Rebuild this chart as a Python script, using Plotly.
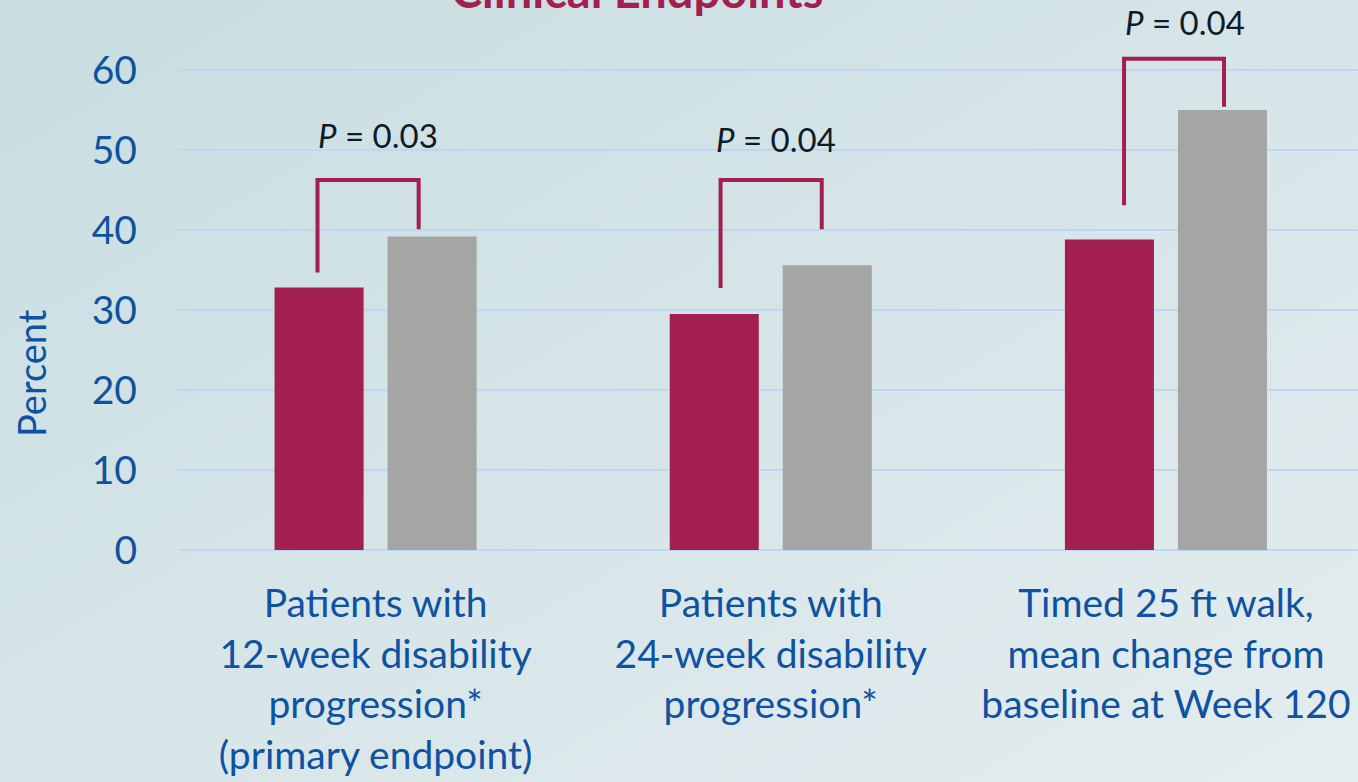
import base64
import plotly.graph_objects as go

# ---- data ----
categories = [
    "Patients with<br>12-week disability<br>progression*<br>(primary endpoint)",
    "Patients with<br>24-week disability<br>progression*",
    "Timed 25 ft walk,<br>mean change from<br>baseline at Week 120",
]
treatment = [32.8, 29.5, 38.8]
placebo = [39.2, 35.6, 55.0]
y_ticks = [0, 10, 20, 30, 40, 50, 60]

# significance brackets: horizontal offsets from the category centre,
# bottom ends of left/right legs and the bracket top
bracket_left_dx = [-0.147, -0.127, -0.106]
bracket_right_dx = [0.109, 0.129, 0.147]
bracket_left_low = [34.7, 32.75, 43.1]
bracket_right_low = [40.1, 40.1, 55.4]
bracket_top = [46.25, 46.25, 61.4]
p_values = ["0.03", "0.04", "0.04"]
p_label_x = [0.005, 1.014, 2.049]
p_label_y = [51.9, 51.4, 66.0]

CRIMSON = "#A31F4F"
GREY = "#A5A5A5"
BLUE = "#0F52A1"
FONT = "Lato"

fig = go.Figure()
x_idx = list(range(len(categories)))

fig.add_trace(go.Bar(x=x_idx, y=treatment, marker=dict(color=CRIMSON, line=dict(width=0)),
                     showlegend=False, hoverinfo="skip"))
fig.add_trace(go.Bar(x=x_idx, y=placebo, marker=dict(color=GREY, line=dict(width=0)),
                     showlegend=False, hoverinfo="skip"))

for i in x_idx:
    xl = i + bracket_left_dx[i]
    xr = i + bracket_right_dx[i]
    fig.add_trace(go.Scatter(
        x=[xl, xl, xr, xr],
        y=[bracket_left_low[i], bracket_top[i], bracket_top[i], bracket_right_low[i]],
        mode="lines", line=dict(color=CRIMSON, width=4),
        showlegend=False, hoverinfo="skip"))
    fig.add_annotation(x=p_label_x[i], y=p_label_y[i], xref="x", yref="y",
                       text=f"<i>P</i> = {p_values[i]}", showarrow=False,
                       font=dict(family=FONT, size=33, color="#0D1B2A"))

# soft diagonal gradient backdrop
svg = (
    '<svg xmlns="http://www.w3.org/2000/svg" width="1358" height="782">'
    '<defs><linearGradient id="g" x1="0" y1="0" x2="1" y2="1">'
    '<stop offset="0" stop-color="#C8DDE1"/>'
    '<stop offset="1" stop-color="#E4EDEF"/>'
    '</linearGradient></defs>'
    '<rect width="1358" height="782" fill="url(#g)"/></svg>'
)
bg_uri = "data:image/svg+xml;base64," + base64.b64encode(svg.encode()).decode()

W, H = 1358, 782
L, R, T, B = 178, 0, 6, 232
pw, ph = W - L - R, H - T - B

fig.add_layout_image(dict(
    source=bg_uri, xref="paper", yref="paper",
    x=-L / pw, y=1 + T / ph, sizex=W / pw, sizey=H / ph,
    sizing="stretch", layer="below", xanchor="left", yanchor="top"))

# chart title (sits at the very top edge of the page)
fig.add_annotation(x=(637 - L) / pw, y=1 + T / ph, xref="paper", yref="paper",
                   text="<b>Clinical Endpoints</b>", showarrow=False,
                   xanchor="center", yanchor="bottom", yshift=-20,
                   font=dict(family=FONT, size=47, color=CRIMSON))

# y-axis title
fig.add_annotation(x=(31 - L) / pw, y=(550 - 373) / ph, xref="paper", yref="paper",
                   text="Percent", textangle=-90, showarrow=False,
                   xanchor="center", yanchor="middle",
                   font=dict(family=FONT, size=38, color=BLUE))

fig.update_layout(
    width=W, height=H,
    margin=dict(l=L, r=R, t=T, b=B, pad=0),
    paper_bgcolor="#D3E3E6",
    plot_bgcolor="rgba(0,0,0,0)",
    barmode="group", bargap=0.428, bargroupgap=0.212,
    font=dict(family=FONT, color=BLUE),
    xaxis=dict(range=[-0.5, 2.486], tickvals=x_idx, ticktext=categories,
               showgrid=False, zeroline=False, showline=False, ticks="",
               tickfont=dict(family=FONT, size=39, color=BLUE),
               ticklabelstandoff=27, fixedrange=True),
    yaxis=dict(range=[0, 68], tickvals=y_ticks, ticktext=[str(v) for v in y_ticks],
               showgrid=True, gridcolor="#BCD8F2", gridwidth=2,
               zeroline=True, zerolinecolor="#BCD8F2", zerolinewidth=2,
               showline=False, ticks="",
               tickfont=dict(family=FONT, size=39, color=BLUE),
               ticklabelstandoff=40, fixedrange=True),
)

fig.write_html("out.html")
